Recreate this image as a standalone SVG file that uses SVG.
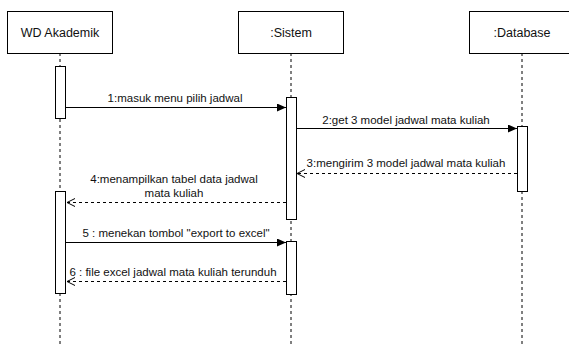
<svg xmlns="http://www.w3.org/2000/svg" width="569" height="344" viewBox="0 0 569 344">
<style>
.box{fill:#fff;stroke:#000;stroke-width:1}
.life{stroke:#000;stroke-width:1;stroke-dasharray:3 3;fill:none}
.act{fill:#fff;stroke:#000;stroke-width:1}
.msg{stroke:#000;stroke-width:1;fill:none}
.ret{stroke:#000;stroke-width:1;fill:none;stroke-dasharray:3 3}
.title{font-family:"Liberation Sans",Arial,sans-serif;font-size:12.5px;fill:#111;text-anchor:middle}
.lbl{font-family:"Liberation Sans",Arial,sans-serif;font-size:11.5px;fill:#111;text-anchor:middle}
</style>
<defs>
<marker id="filled" markerWidth="10" markerHeight="8" refX="9" refY="4" orient="auto" markerUnits="userSpaceOnUse">
<path d="M0,0 L9,4 L0,8 Z" fill="#000"/>
</marker>
<marker id="open" markerWidth="10" markerHeight="10" refX="9" refY="5" orient="auto" markerUnits="userSpaceOnUse">
<path d="M1,1 L9,5 L1,9" fill="none" stroke="#000" stroke-width="1"/>
</marker>
</defs>
<rect width="569" height="344" fill="#fff"/>
<g id="wd">
<line class="life" x1="60" y1="53" x2="60" y2="344"/>
<rect class="box" x="7.5" y="11.5" width="105" height="42"/>
<text class="title" x="60" y="37">WD Akademik</text>
<rect class="act" x="55.5" y="66.5" width="10" height="52"/>
<rect class="act" x="55.5" y="191.5" width="10" height="102"/>
</g>
<g id="sistem">
<line class="life" x1="291" y1="53" x2="291" y2="344"/>
<rect class="box" x="238.5" y="11.5" width="105" height="42"/>
<text class="title" x="291" y="37">:Sistem</text>
<rect class="act" x="286.5" y="97.5" width="10" height="122"/>
<rect class="act" x="286.5" y="241.5" width="10" height="53"/>
</g>
<g id="database">
<line class="life" x1="522" y1="53" x2="522" y2="344"/>
<rect class="box" x="469.5" y="11.5" width="105" height="42"/>
<text class="title" x="522" y="37">:Database</text>
<rect class="act" x="517.5" y="126.5" width="10" height="65"/>
</g>
<g id="connectors">
<line class="msg" x1="66" y1="107.5" x2="286" y2="107.5" marker-end="url(#filled)"/>
<text class="lbl" x="175" y="102">1:masuk menu pilih jadwal</text>
<line class="msg" x1="297" y1="128.5" x2="517" y2="128.5" marker-end="url(#filled)"/>
<text class="lbl" x="406" y="124">2:get 3 model jadwal mata kuliah</text>
<line class="ret" x1="517" y1="173.5" x2="297" y2="173.5" marker-end="url(#open)"/>
<text class="lbl" x="406" y="167">3:mengirim 3 model jadwal mata kuliah</text>
<line class="ret" x1="286" y1="202.5" x2="67" y2="202.5" marker-end="url(#open)"/>
<text class="lbl" x="174" y="183">4:menampilkan tabel data jadwal</text>
<text class="lbl" x="174" y="197">mata kuliah</text>
<line class="msg" x1="66" y1="242.5" x2="286" y2="242.5" marker-end="url(#filled)"/>
<text class="lbl" x="176" y="237">5 : menekan tombol "export to excel"</text>
<line class="ret" x1="286" y1="281.5" x2="67" y2="281.5" marker-end="url(#open)"/>
<text class="lbl" x="173" y="276">6 : file excel jadwal mata kuliah terunduh</text>
</g>
</svg>
